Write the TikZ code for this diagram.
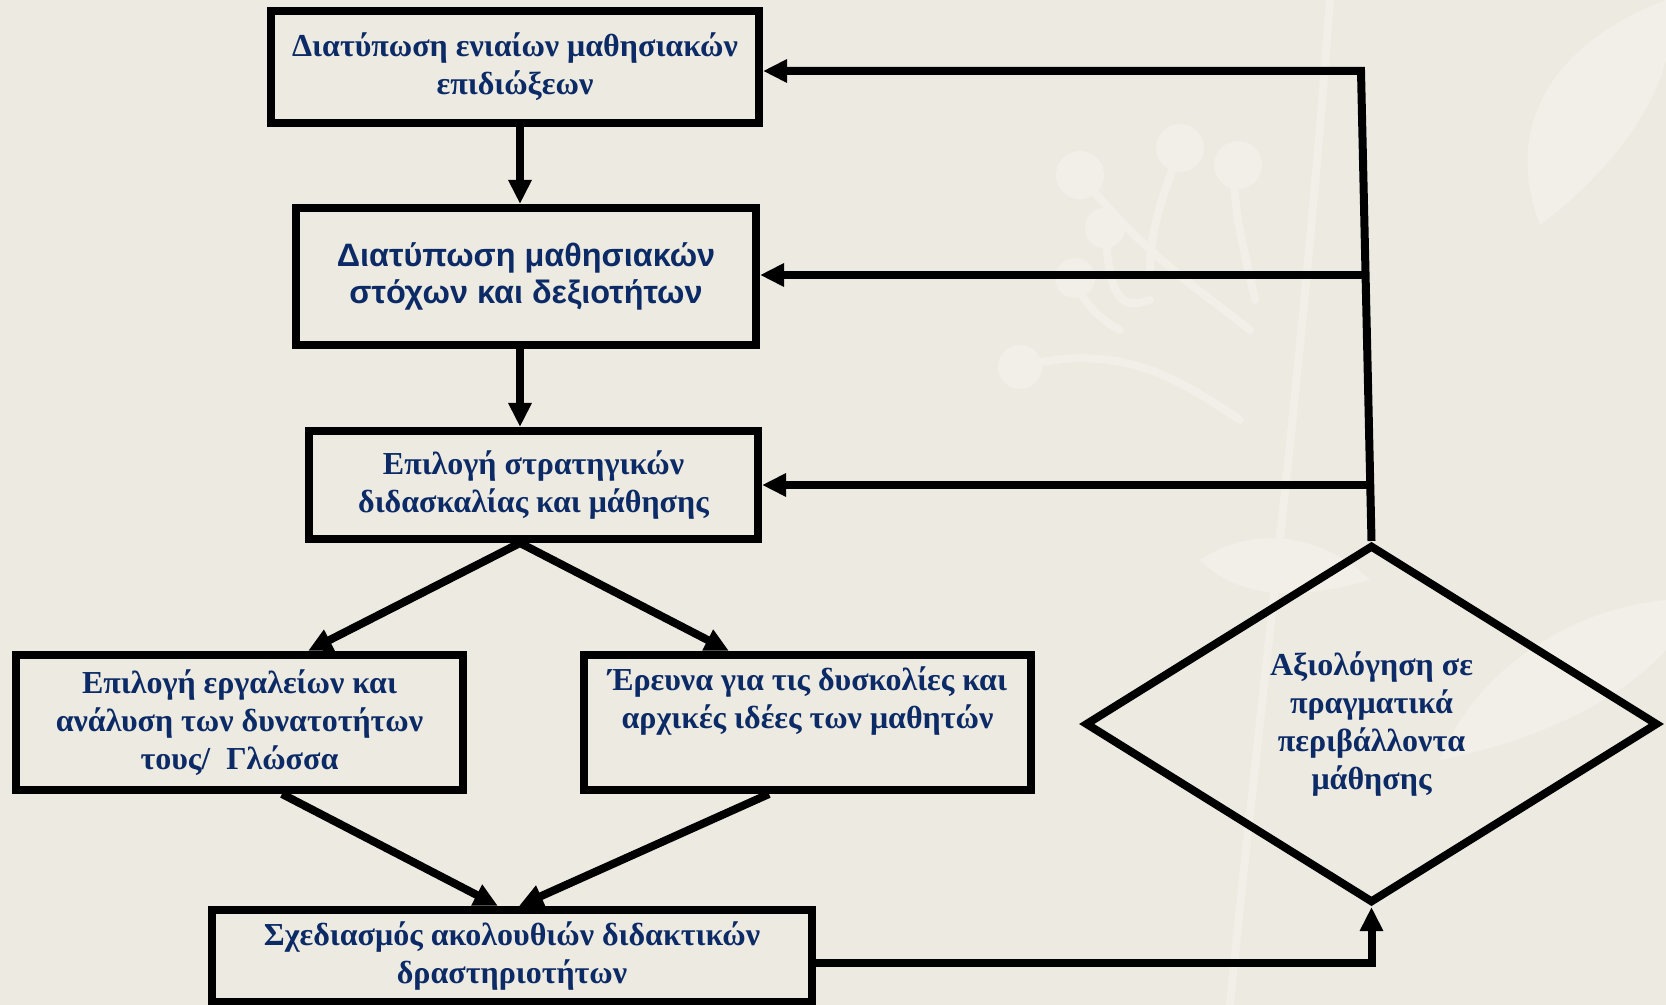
\documentclass[tikz,border=0pt]{standalone}
\usepackage{fontspec}
\setmainfont{Liberation Serif}
\setsansfont{Liberation Sans}
\usetikzlibrary{arrows.meta,shapes.geometric}
\definecolor{bg}{HTML}{EDEBE1}
\definecolor{deco}{HTML}{F1EFE7}
\definecolor{txt}{HTML}{0B2A66}
\begin{document}
\begin{tikzpicture}[x=0.5pt,y=-0.5pt,
  box/.style={draw=black, line width=4pt, rectangle, inner sep=0pt, align=center,
    text=txt, font=\bfseries\fontsize{16}{19}\selectfont},
  sbox/.style={box, font=\sffamily\bfseries\fontsize{16.2}{18.5}\selectfont},
  dia/.style={draw=black, line width=4pt, diamond, inner sep=0pt, align=center,
    text=txt, font=\bfseries\fontsize{16}{19}\selectfont, shape aspect=1.6},
  ln/.style={line width=4pt, line join=miter},
  arr/.style={ln, -{Triangle[length=12pt,width=11pt]}},
  decofill/.style={fill=deco},
  decoline/.style={draw=deco, line width=4pt, line cap=round},
]
\fill[bg] (0,0) rectangle (1666,1005);
\useasboundingbox (0,0) rectangle (1666,1005);

% faint background decoration
\draw[decoline] (1230,1005) .. controls (1260,700) and (1300,400) .. (1330,0);
\draw[decoline] (1240,420) .. controls (1180,380) and (1120,340) .. (1020,367);
\draw[decoline] (1250,330) .. controls (1200,290) and (1150,260) .. (1080,175);
\draw[decoline] (1255,300) .. controls (1240,230) and (1230,200) .. (1238,165);
\draw[decoline] (1150,270) .. controls (1150,220) and (1170,180) .. (1180,148);
\draw[decoline] (1150,300) .. controls (1120,310) and (1110,300) .. (1105,228);
\draw[decoline] (1120,330) .. controls (1100,320) and (1080,300) .. (1075,278);
\fill[decofill] (1080,175) circle (24);
\fill[decofill] (1105,228) circle (20);
\fill[decofill] (1180,148) circle (24);
\fill[decofill] (1238,165) circle (24);
\fill[decofill] (1075,278) circle (20);
\fill[decofill] (1020,367) circle (22);
\fill[decofill] (1666,0) .. controls (1560,40) and (1500,120) .. (1540,225)
  .. controls (1600,180) and (1650,120) .. (1666,60) -- cycle;
\fill[decofill] (1200,560) .. controls (1260,520) and (1330,540) .. (1370,580)
  .. controls (1300,600) and (1240,600) .. (1200,560) -- cycle;
\fill[decofill] (1666,600) .. controls (1560,610) and (1470,680) .. (1440,760)
  .. controls (1540,740) and (1620,700) .. (1666,650) -- cycle;

% boxes
\node[box, minimum width=244pt, minimum height=56pt] (b1) at (515,67)
  {Διατύπωση ενιαίων μαθησιακών\\επιδιώξεων};
\node[sbox, minimum width=230pt, minimum height=68.5pt] (b2) at (526,276.5)
  {Διατύπωση μαθησιακών\\στόχων και δεξιοτήτων};
\node[box, minimum width=224.5pt, minimum height=54pt] (b3) at (533.5,485)
  {Επιλογή στρατηγικών\\διδασκαλίας και μάθησης};
\node[box, minimum width=223.5pt, minimum height=67.5pt] (b4) at (239.5,722.5)
  {Επιλογή εργαλείων και\\ανάλυση των δυνατοτήτων\\τους/\ \ Γλώσσα};
\node[box, minimum width=223.5pt, minimum height=67.5pt] (b5) at (807.5,722.5)
  {Έρευνα για τις δυσκολίες και\\αρχικές ιδέες των μαθητών\\\strut};
\node[box, minimum width=300pt, minimum height=46pt] (b6) at (512,956)
  {Σχεδιασμός ακολουθιών διδακτικών\\δραστηριοτήτων};
\node[dia, minimum width=286.5pt, minimum height=179pt] (d) at (1371.5,724)
  {Αξιολόγηση σε\\πραγματικά\\περιβάλλοντα\\μάθησης};

% helper coordinates
\coordinate (xa) at (520,0);
\coordinate (x4t) at (308,0);
\coordinate (x5t) at (729,0);
\coordinate (x4b) at (282,0);
\coordinate (x5b) at (769,0);
\coordinate (x6l) at (498,0);
\coordinate (x6r) at (519,0);
\coordinate (fbT) at (1361,71);
\coordinate (fb2) at (1365,275);
\coordinate (fb3) at (1369,485);
\coordinate (fbB) at (1371.5,963);

% main flow
\draw[arr] (b1.south -| xa) -- (b2.north -| xa);
\draw[arr] (b2.south -| xa) -- (b3.north -| xa);
\draw[arr] (b3.south -| xa) -- (b4.north -| x4t);
\draw[arr] (b3.south -| xa) -- (b5.north -| x5t);
\draw[arr] (b4.south -| x4b) -- (b6.north -| x6l);
\draw[arr] (b5.south -| x5b) -- (b6.north -| x6r);

% feedback
\draw[arr] (b6.east |- fbB) -- (fbB) -- (d.south);
\draw[arr] (d.north) -- (fbT) -- (b1.east |- fbT);
\draw[arr] (fb2) -- (b2.east |- fb2);
\draw[arr] (fb3) -- (b3.east |- fb3);
\end{tikzpicture}
\end{document}
